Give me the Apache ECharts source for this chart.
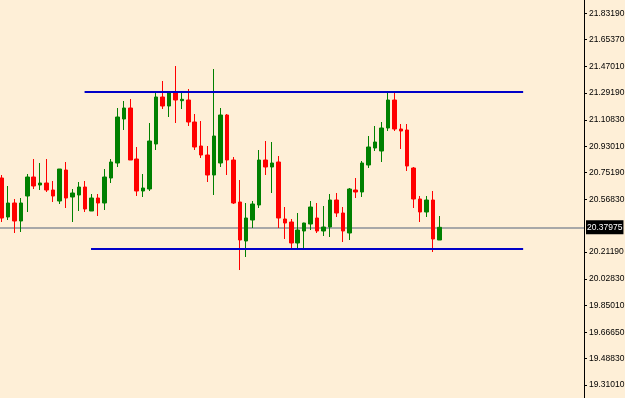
<!DOCTYPE html>
<html>
<head>
<meta charset="utf-8">
<script src="https://cdn.jsdelivr.net/npm/echarts@6/dist/echarts.min.js"></script>
<style>
    html, body { margin: 0; padding: 0; background: #feefd7; }
    #chart { width: 625px; height: 398px; }
</style>
</head>
<body>
<div id="chart"></div>
<script>
// candle prices (oldest first)
var opens = [
    20.7144, 20.4498, 20.5447, 20.4226, 20.5922, 20.7212, 20.6669, 20.6804, 20.6329, 20.5583,
    20.7686, 20.5855, 20.5990, 20.6533, 20.4905, 20.5787, 20.5447, 20.7144, 20.8161, 21.1147,
    21.1893, 20.8433, 20.6262, 20.6397, 20.9451, 21.2640, 21.2029, 21.2930, 21.2389, 21.2436,
    21.0943, 20.9315, 20.8704, 20.7347, 20.8161, 21.1418, 20.8365, 20.5515, 20.2869, 20.4294,
    20.5312, 20.8365, 20.7890, 20.8229, 20.4362, 20.4158, 20.2733, 20.3548, 20.4023, 20.4430,
    20.3548, 20.3819, 20.5651, 20.4769, 20.3412, 20.6329, 20.6194, 20.8026, 20.9179, 20.8976,
    21.0536, 21.2436, 21.0468, 21.0400, 20.7822, 20.5719, 20.4837, 20.5651, 20.2937
];
var closes = [
    20.4430, 20.5447, 20.4226, 20.5447, 20.7212, 20.6601, 20.6804, 20.6329, 20.5922, 20.7754,
    20.5787, 20.6126, 20.6533, 20.5040, 20.5787, 20.5447, 20.7212, 20.8229, 21.1283, 21.1893,
    20.8365, 20.6262, 20.6465, 20.9654, 21.2640, 21.2029, 21.2930, 21.2436, 21.2483, 21.0943,
    20.9247, 20.8704, 20.7347, 20.9993, 21.1418, 20.8365, 20.5447, 20.2937, 20.4430, 20.5380,
    20.8365, 20.7890, 20.8161, 20.4430, 20.4090, 20.2733, 20.3615, 20.4090, 20.5176, 20.3548,
    20.3819, 20.5651, 20.4769, 20.3548, 20.6397, 20.6194, 20.8161, 20.9247, 20.9586, 21.0536,
    21.2436, 21.0468, 21.0333, 20.7958, 20.5719, 20.4837, 20.5651, 20.3005, 20.37975
];
var lows = [
    20.4158, 20.4294, 20.3412, 20.3480, 20.4837, 20.6397, 20.6329, 20.6194, 20.5515, 20.5380,
    20.5108, 20.4158, 20.4905, 20.4837, 20.4905, 20.4565, 20.4972, 20.6804, 20.7890, 21.0400,
    20.8365, 20.5922, 20.5855, 20.6262, 20.9043, 21.1825, 21.1283, 21.0875, 21.1825, 21.0672,
    20.9043, 20.8501, 20.6872, 20.5990, 20.7890, 20.7347, 20.5380, 20.0901, 20.1784, 20.3751,
    20.5108, 20.7347, 20.6126, 20.3751, 20.3005, 20.2326, 20.2326, 20.2326, 20.3615, 20.3412,
    20.3208, 20.3141, 20.4498, 20.2801, 20.2937, 20.5787, 20.5855, 20.7822, 20.8976, 20.8229,
    21.0333, 21.0333, 20.9111, 20.7619, 20.5108, 20.4158, 20.4498, 20.2123, 20.2937
];
var highs = [
    20.7347, 20.6601, 20.5719, 20.5787, 20.7415, 20.8433, 20.8161, 20.8433, 20.6940, 20.7754,
    20.8229, 20.6397, 20.6872, 20.6940, 20.6058, 20.6058, 20.7754, 20.8433, 21.1893, 21.2368,
    21.2504, 20.9247, 20.7415, 21.0875, 21.2979, 21.3725, 21.2979, 21.4743, 21.2979, 21.3182,
    21.1486, 21.1011, 20.9315, 21.4539, 21.1893, 21.1486, 20.8569, 20.7008, 20.5447, 20.5583,
    20.9043, 20.9654, 20.9586, 20.8636, 20.5176, 20.4362, 20.4769, 20.4111, 20.5583, 20.5447,
    20.5244, 20.6058, 20.6126, 20.5176, 20.6465, 20.7144, 20.8297, 20.9993, 21.0672, 21.0943,
    21.2911, 21.2911, 21.0808, 21.0808, 20.7890, 20.5922, 20.5922, 20.6262, 20.4565
];

// price scale labels on the right
var tickValues = [
    21.8319, 21.6537, 21.4701, 21.2919, 21.1083, 20.9301, 20.7519,
    20.5683, 20.2119, 20.0283, 19.8501, 19.6665, 19.4883, 19.3101
];
var lastPrice = 20.37975;

// horizontal trend lines: [startBar, endBar, price]
var resistanceLine = [12.9, 81, 21.2979];
var supportLine = [13.9, 81, 20.2326];

chart();

function chart() {
    var myChart = echarts.init(document.getElementById("chart"));

    var candles = [];
    for (var i = 0; i < opens.length; i++) {
        candles.push([i, opens[i], closes[i], lows[i], highs[i]]);
    }

    var labelFont = "Liberation Sans";

    var option = {
        animation: false,
        backgroundColor: "#feefd7",
        grid: {
            left: 0,
            right: 41,
            top: 0,
            bottom: 0,
            outerBoundsMode: "none",
        },
        xAxis: {
            type: "value",
            min: -0.233,
            max: 90.45,
            show: false,
        },
        yAxis: {
            type: "value",
            position: "right",
            min: 19.22174,
            max: 21.92214,
            splitLine: { show: false },
            axisLine: {
                show: true,
                onZero: false,
                lineStyle: { color: "#000", width: 1 },
            },
            axisTick: {
                show: true,
                inside: false,
                length: 3,
                customValues: tickValues,
                lineStyle: { color: "#000" },
            },
            axisLabel: {
                customValues: tickValues,
                margin: 5,
                color: "#000",
                fontSize: 8.5,
                fontFamily: labelFont,
                formatter: function (v) {
                    return v.toFixed(5);
                },
            },
        },
        series: [
            {
                name: "price",
                type: "candlestick",
                barWidth: 4,
                z: 3,
                itemStyle: {
                    color: "#008000",
                    color0: "#ff0000",
                    borderColor: "#008000",
                    borderColor0: "#ff0000",
                    borderWidth: 1,
                },
                markLine: {
                    silent: true,
                    z: 1,
                    symbol: ["none", "none"],
                    lineStyle: { color: "#a8a8a8", width: 2, type: "solid" },
                    label: {
                        position: "end",
                        distance: 2,
                        color: "#fff",
                        backgroundColor: "#000",
                        padding: [3, 1, 2, 1],
                        fontSize: 8.5,
                        fontFamily: labelFont,
                        formatter: function () {
                            return lastPrice.toFixed(5);
                        },
                    },
                    data: [{ yAxis: lastPrice }],
                },
                data: candles,
            },
            {
                name: "resistance",
                type: "line",
                showSymbol: false,
                silent: true,
                z: 4,
                lineStyle: { color: "#0000c8", width: 2 },
                data: [
                    [resistanceLine[0], resistanceLine[2]],
                    [resistanceLine[1], resistanceLine[2]],
                ],
            },
            {
                name: "support",
                type: "line",
                showSymbol: false,
                silent: true,
                z: 4,
                lineStyle: { color: "#0000c8", width: 2 },
                data: [
                    [supportLine[0], supportLine[2]],
                    [supportLine[1], supportLine[2]],
                ],
            },
        ],
    };

    myChart.setOption(option);
    window.addEventListener("resize", function () {
        myChart.resize();
    });
}
</script>
</body>
</html>
